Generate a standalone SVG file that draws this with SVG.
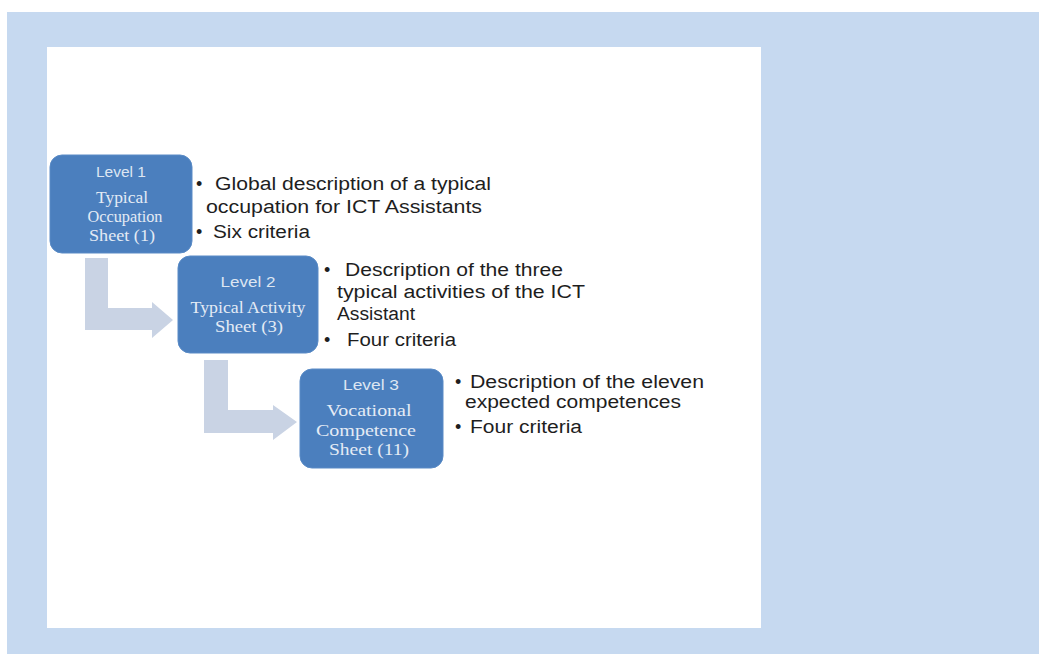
<svg xmlns="http://www.w3.org/2000/svg" width="1039" height="654" viewBox="0 0 1039 654">
<style>
.node{fill:#4B7FBE;stroke:#5A8BC6;stroke-width:1}
.lvl{font-family:"Liberation Sans",Arial,sans-serif;font-size:14px;fill:#DDE6F2;text-anchor:middle}
.ttl{font-family:"Liberation Serif","Times New Roman",serif;fill:#E4EBF5;text-anchor:middle}
.txt{font-family:"Liberation Sans",Arial,sans-serif;font-size:18px;fill:#1E1E1E}
.arrow{fill:#C9D3E4}
</style>
<rect x="0" y="0" width="1039" height="654" fill="#FFFFFF"/>
<rect x="7" y="12" width="1032" height="642" fill="#C6D9F0"/>
<rect x="47" y="47" width="714" height="581" fill="#FFFFFF"/>
<g id="connectors">
<path class="arrow" d="M85,258 H108 V308 H152 V302 L173,320 L152,338 V330 H85 Z"/>
<path class="arrow" d="M204,360 H228 V410 H273 V405 L297,422 L273,440 V433 H204 Z"/>
</g>
<g id="node1">
<rect class="node" x="50" y="155" width="142" height="98" rx="12"/>
<text class="lvl" x="121" y="177" textLength="50" lengthAdjust="spacingAndGlyphs">Level 1</text>
<text class="ttl" x="122" y="203" font-size="16" textLength="52" lengthAdjust="spacingAndGlyphs">Typical</text>
<text class="ttl" x="125" y="222" font-size="16" textLength="75" lengthAdjust="spacingAndGlyphs">Occupation</text>
<text class="ttl" x="122" y="241" font-size="16" textLength="66" lengthAdjust="spacingAndGlyphs">Sheet (1)</text>
</g>
<g id="text1">
<text class="txt" x="196" y="190">•</text>
<text class="txt" x="215" y="190" textLength="276" lengthAdjust="spacingAndGlyphs">Global description of a typical</text>
<text class="txt" x="206" y="213" textLength="276" lengthAdjust="spacingAndGlyphs">occupation for ICT Assistants</text>
<text class="txt" x="196" y="238">•</text>
<text class="txt" x="213" y="238" textLength="97" lengthAdjust="spacingAndGlyphs">Six criteria</text>
</g>
<g id="node2">
<rect class="node" x="178" y="256" width="140" height="97" rx="12"/>
<text class="lvl" x="248" y="287" textLength="55" lengthAdjust="spacingAndGlyphs">Level 2</text>
<text class="ttl" x="248" y="313" font-size="16" textLength="115" lengthAdjust="spacingAndGlyphs">Typical Activity</text>
<text class="ttl" x="249" y="332" font-size="16" textLength="68" lengthAdjust="spacingAndGlyphs">Sheet (3)</text>
</g>
<g id="text2">
<text class="txt" x="324" y="276">•</text>
<text class="txt" x="345" y="276" textLength="218" lengthAdjust="spacingAndGlyphs">Description of the three</text>
<text class="txt" x="337" y="298" textLength="248" lengthAdjust="spacingAndGlyphs">typical activities of the ICT</text>
<text class="txt" x="337" y="320" textLength="78" lengthAdjust="spacingAndGlyphs">Assistant</text>
<text class="txt" x="324" y="346">•</text>
<text class="txt" x="347" y="346" textLength="109" lengthAdjust="spacingAndGlyphs">Four criteria</text>
</g>
<g id="node3">
<rect class="node" x="300" y="369" width="143" height="99" rx="12"/>
<text class="lvl" x="371" y="390" textLength="56" lengthAdjust="spacingAndGlyphs">Level 3</text>
<text class="ttl" x="369" y="416" font-size="16" textLength="85" lengthAdjust="spacingAndGlyphs">Vocational</text>
<text class="ttl" x="366" y="436" font-size="16" textLength="100" lengthAdjust="spacingAndGlyphs">Competence</text>
<text class="ttl" x="369" y="455" font-size="16" textLength="80" lengthAdjust="spacingAndGlyphs">Sheet (11)</text>
</g>
<g id="text3">
<text class="txt" x="455" y="388">•</text>
<text class="txt" x="470" y="388" textLength="234" lengthAdjust="spacingAndGlyphs">Description of the eleven</text>
<text class="txt" x="465" y="408" textLength="216" lengthAdjust="spacingAndGlyphs">expected competences</text>
<text class="txt" x="455" y="433">•</text>
<text class="txt" x="470" y="433" textLength="112" lengthAdjust="spacingAndGlyphs">Four criteria</text>
</g>
</svg>
